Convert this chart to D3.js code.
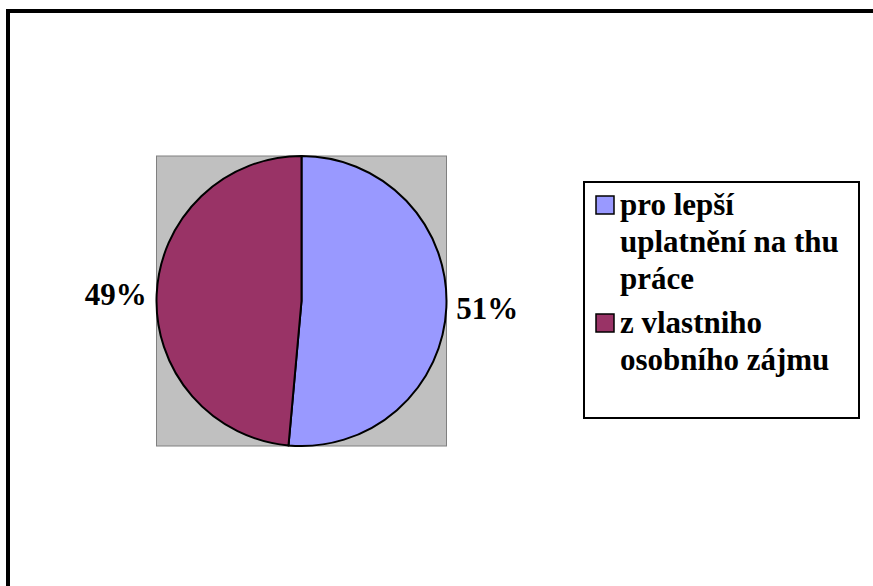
<!DOCTYPE html>
<html><head><meta charset="utf-8"><script src="https://cdn.jsdelivr.net/npm/d3@7"></script></head>
<body style="margin:0">
<svg id="chart" width="873" height="586" font-family="Times New Roman" font-weight="bold"></svg>
<script>
// Survey answers: why respondents chose the course
const categories = ["pro lepší uplatnění na thu práce", "z vlastniho osobního zájmu"];
const counts = [36, 34];
const colors = ["#9999FF", "#993366"];
// Legend text broken into lines as it wraps in the legend box
const legendLines = [
  ["pro lepší", "uplatnění na thu", "práce"],
  ["z vlastniho", "osobního zájmu"]
];

const FONT = "Times New Roman";

const svg = d3.select("#chart");
const W = 873, H = 586;

// Outer chart frame (runs off the right and bottom edges)
svg.append("path")
  .attr("d", `M8,${H + 5} L8,11 L${W + 5},11`)
  .attr("fill", "none")
  .attr("stroke", "#000")
  .attr("stroke-width", 4);

// Plot area
const cx = 301.5, cy = 301, r = 145;
svg.append("rect")
  .attr("x", cx - r).attr("y", cy - r)
  .attr("width", 2 * r).attr("height", 2 * r)
  .attr("fill", "#C0C0C0")
  .attr("stroke", "#808080")
  .attr("stroke-width", 1);

const color = d3.scaleOrdinal().domain(categories).range(colors);
const data = categories.map((c, i) => ({ name: c, value: counts[i] }));
const total = d3.sum(counts);

const pie = d3.pie().value(d => d.value).sort(null);
const arcs = pie(data);
const arc = d3.arc().innerRadius(0).outerRadius(r);

const g = svg.append("g").attr("transform", `translate(${cx},${cy})`);
g.selectAll("path.slice")
  .data(arcs)
  .join("path")
  .attr("class", "slice")
  .attr("d", arc)
  .attr("fill", d => color(d.data.name))
  .attr("stroke", "#000")
  .attr("stroke-width", 2)
  .attr("stroke-linejoin", "round");

// Percentage labels just outside the rim at each slice's mid angle
const pct = d3.format(".0%");
const labelR = r + 10;
arcs.forEach(d => {
  const a = (d.startAngle + d.endAngle) / 2;
  const x = Math.sin(a) * labelR;
  const y = -Math.cos(a) * labelR;
  g.append("text")
    .attr("x", x)
    .attr("y", y + 11)
    .attr("text-anchor", x >= 0 ? "start" : "end")
    .attr("font-family", FONT)
    .attr("font-weight", "bold")
    .attr("font-size", 31)
    .text(pct(d.data.value / total));
});

// Legend
const legend = svg.append("g");
legend.append("rect")
  .attr("x", 584).attr("y", 182)
  .attr("width", 275).attr("height", 236)
  .attr("fill", "#fff")
  .attr("stroke", "#000")
  .attr("stroke-width", 2);

const lineH = 37;
const itemBaselines = [215, 333];
categories.forEach((c, i) => {
  const base = itemBaselines[i];
  legend.append("rect")
    .attr("x", 596).attr("y", base - 19)
    .attr("width", 18).attr("height", 18)
    .attr("fill", color(c))
    .attr("stroke", "#000")
    .attr("stroke-width", 1.5);
  legendLines[i].forEach((ln, j) => {
    legend.append("text")
      .attr("x", 620)
      .attr("y", base + j * lineH)
      .attr("font-family", FONT)
      .attr("font-weight", "bold")
      .attr("font-size", 31)
      .text(ln);
  });
});
</script>
</body>
</html>
